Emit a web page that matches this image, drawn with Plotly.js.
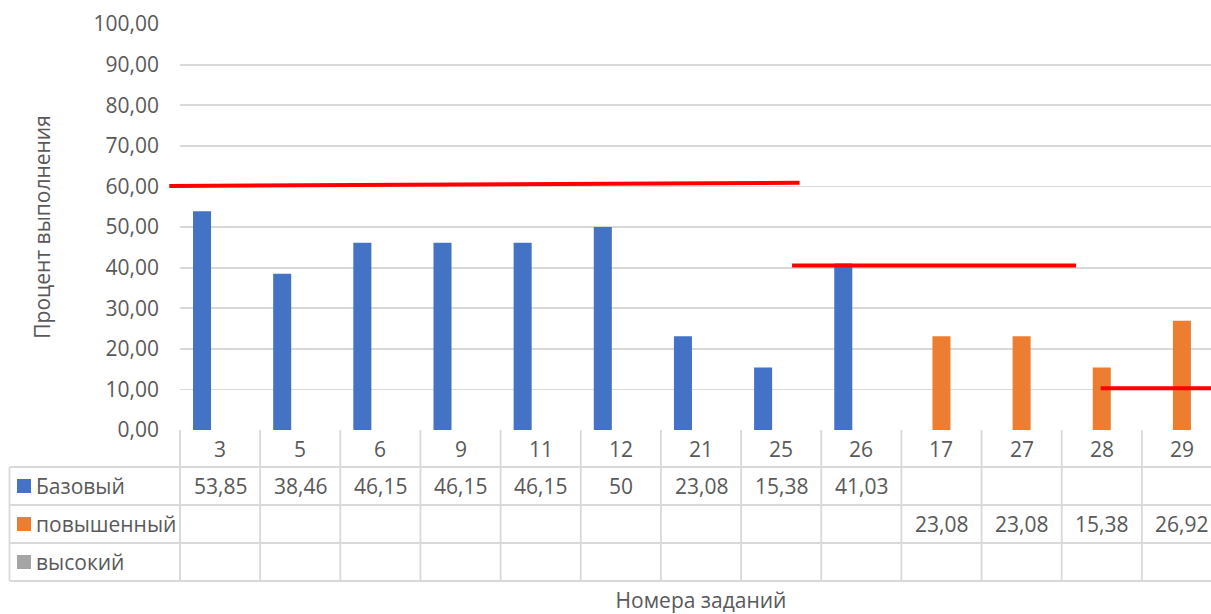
<!DOCTYPE html>
<html>
<head>
<meta charset="utf-8">
<script src="https://cdn.plot.ly/plotly-3.0.1.min.js"></script>
<style>
html, body { margin: 0; padding: 0; overflow: hidden; background: #fff; }
#chart { width: 1222px; height: 614px; }
</style>
</head>
<body>
<div id="chart"></div>
<script>
// ---- data ----
const categories = ['3', '5', '6', '9', '11', '12', '21', '25', '26', '17', '27', '28', '29'];
const seriesNames = ['Базовый', 'повышенный', 'высокий'];
const basicValues = [53.85, 38.46, 46.15, 46.15, 46.15, 50, 23.08, 15.38, 41.03, null, null, null, null];
const raisedValues = [null, null, null, null, null, null, null, null, null, 23.08, 23.08, 15.38, 26.92];
const highValues = [null, null, null, null, null, null, null, null, null, null, null, null, null];
const seriesColors = ['#4472C4', '#ED7D31', '#A5A5A5'];
// red reference lines (category index from / to, level at start / end)
const refFrom = [-0.64, 7.13, 10.98];
const refTo = [7.23, 10.68, 12.5];
const refLevelStart = [60.1, 40.5, 10.3];
const refLevelEnd = [60.9, 40.5, 10.3];
const yTitle = 'Процент выполнения';
const xTitle = 'Номера заданий';

// ---- geometry ----
const W = 1222, H = 614;
const M = {l: 180, r: 0, t: 24, b: 184};
const plotW = W - M.l - M.r, plotH = H - M.t - M.b;
const plotBottom = H - M.b;
const py = p => (plotBottom - p) / plotH;      // pixel y -> paper y
const px = p => (p - M.l) / plotW;             // pixel x -> paper x
const rowEdges = [430, 467, 505, 543, 581];
const tableLeft = 9.5;
const textColor = '#595959';
const lineColor = '#d9d9d9';
const FONT = 'Open Sans, Noto Sans, sans-serif';
const FS = 21;

const allSeries = [basicValues, raisedValues, highValues];
const barW = 0.225;
const traces = allSeries.map((vals, i) => ({
  type: 'bar',
  x: categories,
  y: vals,
  name: seriesNames[i],
  marker: {color: seriesColors[i]},
  width: barW,
  offset: -1.5 * barW + i * barW,
  hoverinfo: 'skip'
}));

const shapes = [];
const annotations = [];
// horizontal table lines
for (let r = 1; r < rowEdges.length; r++) {
  shapes.push({type: 'line', xref: 'paper', yref: 'paper',
    x0: px(tableLeft), x1: 1, y0: py(rowEdges[r]), y1: py(rowEdges[r]),
    line: {color: lineColor, width: 1.8}, layer: 'above'});
}
// vertical table lines
for (let k = 0; k < categories.length; k++) {
  shapes.push({type: 'line', xref: 'x', yref: 'paper',
    x0: k - 0.5, x1: k - 0.5, y0: py(rowEdges[0]), y1: py(rowEdges[4]),
    line: {color: lineColor, width: 1.8}, layer: 'above'});
}
shapes.push({type: 'line', xref: 'paper', yref: 'paper',
  x0: px(tableLeft), x1: px(tableLeft), y0: py(rowEdges[1]), y1: py(rowEdges[4]),
  line: {color: lineColor, width: 1.8}});
shapes.push({type: 'line', xref: 'paper', yref: 'paper',
  x0: px(M.l), x1: px(M.l), y0: py(rowEdges[0]), y1: py(rowEdges[4]),
  line: {color: lineColor, width: 1.8}});

// category header
categories.forEach((c, k) => {
  annotations.push({xref: 'x', yref: 'paper', x: k, y: py((rowEdges[0] + rowEdges[1]) / 2),
    text: c, showarrow: false, xanchor: 'center', yanchor: 'middle',
    font: {family: FONT, size: FS, color: textColor}});
});
// series rows
allSeries.forEach((vals, i) => {
  const yc = py((rowEdges[i + 1] + rowEdges[i + 2]) / 2);
  shapes.push({type: 'rect', xref: 'paper', yref: 'paper',
    x0: px(17), x1: px(31), y0: yc - 7 / plotH, y1: yc + 7 / plotH,
    fillcolor: seriesColors[i], line: {width: 0}});
  annotations.push({xref: 'paper', yref: 'paper', x: px(34), y: yc,
    text: seriesNames[i], showarrow: false, xanchor: 'left', yanchor: 'middle',
    font: {family: FONT, size: FS, color: textColor}});
  vals.forEach((v, k) => {
    if (v === null) return;
    annotations.push({xref: 'x', yref: 'paper', x: k, y: yc,
      text: String(v).replace('.', ','), showarrow: false, xanchor: 'center', yanchor: 'middle',
      font: {family: FONT, size: FS, color: textColor}});
  });
});
// red reference lines
refFrom.forEach((x0, i) => {
  annotations.push({xref: 'x', yref: 'y', axref: 'x', ayref: 'y',
    x: refTo[i], y: refLevelEnd[i], ax: x0, ay: refLevelStart[i],
    text: ' ', showarrow: true, arrowhead: 0, arrowwidth: 4, arrowcolor: '#FF0000',
    standoff: 0, startstandoff: 0, borderpad: 0, font: {size: 1}});
});

const layout = {
  width: W, height: H,
  margin: M,
  paper_bgcolor: '#fff', plot_bgcolor: '#fff',
  separators: ', ',
  showlegend: false,
  barmode: 'overlay',
  hovermode: false,
  font: {family: FONT, size: FS, color: textColor},
  xaxis: {
    type: 'category', range: [-0.5, 12.5], showgrid: false, showticklabels: false,
    ticks: '', zeroline: false, showline: false, fixedrange: true,
    title: {text: xTitle, font: {family: FONT, size: FS, color: textColor}, standoff: 165}
  },
  yaxis: {
    range: [0, 100], dtick: 10, tickformat: '.2f', ticks: '',
    showgrid: true, gridcolor: lineColor, gridwidth: 1.8, zeroline: false, showline: false,
    ticklabelstandoff: 20, fixedrange: true,
    tickfont: {family: FONT, size: FS, color: textColor},
    title: {text: yTitle, font: {family: FONT, size: FS, color: textColor}, standoff: 37}
  },
  shapes: shapes,
  annotations: annotations
};

Plotly.newPlot('chart', traces, layout, {displayModeBar: false, staticPlot: true});
</script>
</body>
</html>
